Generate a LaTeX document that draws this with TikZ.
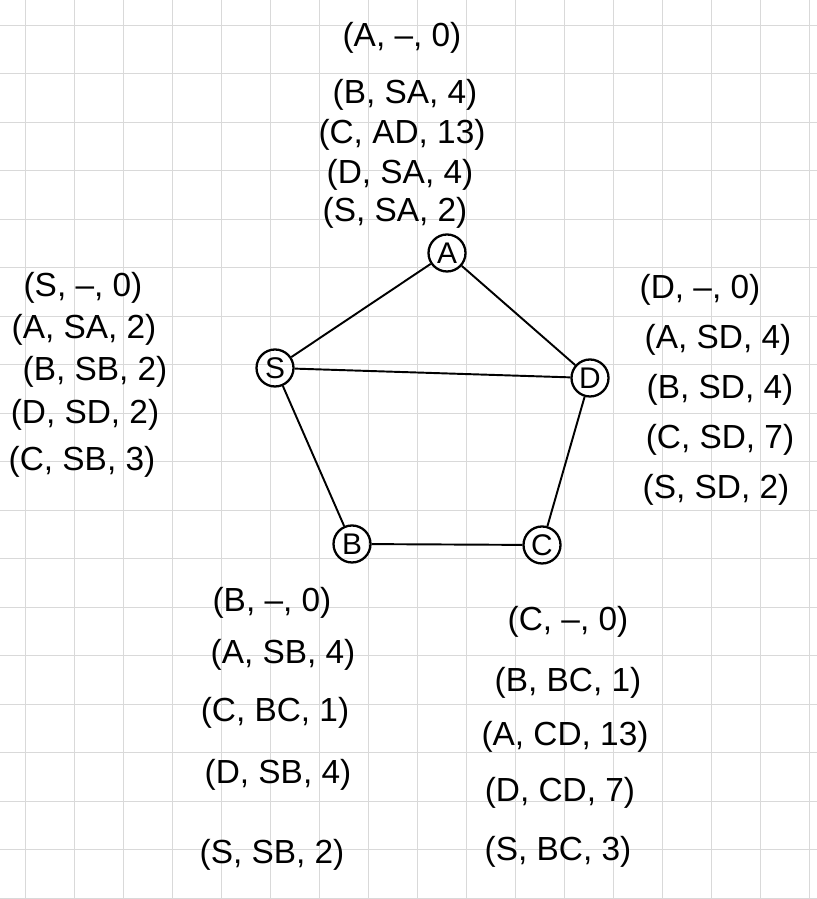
\documentclass[tikz,border=0pt]{standalone}
\usepackage{fontspec}
\setmainfont{Liberation Sans}
\usepackage{xcolor}
\usepackage{tikz}
\usetikzlibrary{positioning}

\begin{document}
\begin{tikzpicture}[
  vert/.style={circle,draw=black,line width=1.3pt,minimum size=0.74cm,inner sep=0pt,
               font=\fontsize{17}{17}\selectfont},
  tbl/.style={font=\fontsize{19}{22}\selectfont,inner sep=1pt},
  edge/.style={black,line width=1.1pt},
  gridline/.style={gray!30,line width=0.5pt},
]
\useasboundingbox (0,0) rectangle (16.34,17.98);
\fill[white] (0,0) rectangle (16.34,17.98);
\begin{scope}[shift={(0.5,0.02)}]
  \draw[gridline,xstep=0.98,ystep=0.97] (-0.5,-0.02) grid (15.84,17.96);
\end{scope}

%% ─── Graph ───────────────────────────────────────────────────────────────────
\node[vert] (A) at (8.94,12.92) {A};
\node[vert] (S) at (5.50,10.62) {S};
\node[vert] (D) at (11.80,10.42) {D};
\node[vert] (B) at (7.04,7.10) {B};
\node[vert] (C) at (10.84,7.08) {C};

\draw[edge] (A)--(S);
\draw[edge] (A)--(D);
\draw[edge] (S)--(D);
\draw[edge] (S)--(B);
\draw[edge] (D)--(C);
\draw[edge] (B)--(C);

%% ─── Table of A ──────────────────────────────────────────────────────────────
\node[tbl] (a0) at (8.04,17.22) {(A, –, 0)};
\node[tbl] (a1) at (8.10,16.08) {(B, SA, 4)};
\node[tbl] (a2) at (8.04,15.28) {(C, AD, 13)};
\node[tbl] (a3) at (8.00,14.48) {(D, SA, 4)};
\node[tbl] (a4) at (7.90,13.72) {(S, SA, 2)};

%% ─── Table of S ──────────────────────────────────────────────────────────────
\node[tbl] (s0) at (1.66,12.22) {(S, –, 0)};
\node[tbl] (s1) at (1.68,11.38) {(A, SA, 2)};
\node[tbl] (s2) at (1.90,10.54) {(B, SB, 2)};
\node[tbl] (s3) at (1.70,9.68) {(D, SD, 2)};
\node[tbl] (s4) at (1.64,8.74) {(C, SB, 3)};

%% ─── Table of D ──────────────────────────────────────────────────────────────
\node[tbl] (d0) at (14.00,12.18) {(D, –, 0)};
\node[tbl] (d1) at (14.36,11.18) {(A, SD, 4)};
\node[tbl] (d2) at (14.40,10.18) {(B, SD, 4)};
\node[tbl] (d3) at (14.40,9.18) {(C, SD, 7)};
\node[tbl] (d4) at (14.32,8.18) {(S, SD, 2)};

%% ─── Table of B ──────────────────────────────────────────────────────────────
\node[tbl] (b0) at (5.44,5.92) {(B, –, 0)};
\node[tbl] (b1) at (5.66,4.88) {(A, SB, 4)};
\node[tbl] (b2) at (5.50,3.72) {(C, BC, 1)};
\node[tbl] (b3) at (5.56,2.48) {(D, SB, 4)};
\node[tbl] (b4) at (5.44,0.88) {(S, SB, 2)};

%% ─── Table of C ──────────────────────────────────────────────────────────────
\node[tbl] (c0) at (11.36,5.54) {(C, –, 0)};
\node[tbl] (c1) at (11.36,4.32) {(B, BC, 1)};
\node[tbl] (c2) at (11.30,3.24) {(A, CD, 13)};
\node[tbl] (c3) at (11.20,2.12) {(D, CD, 7)};
\node[tbl] (c4) at (11.16,0.94) {(S, BC, 3)};

\end{tikzpicture}
\end{document}
